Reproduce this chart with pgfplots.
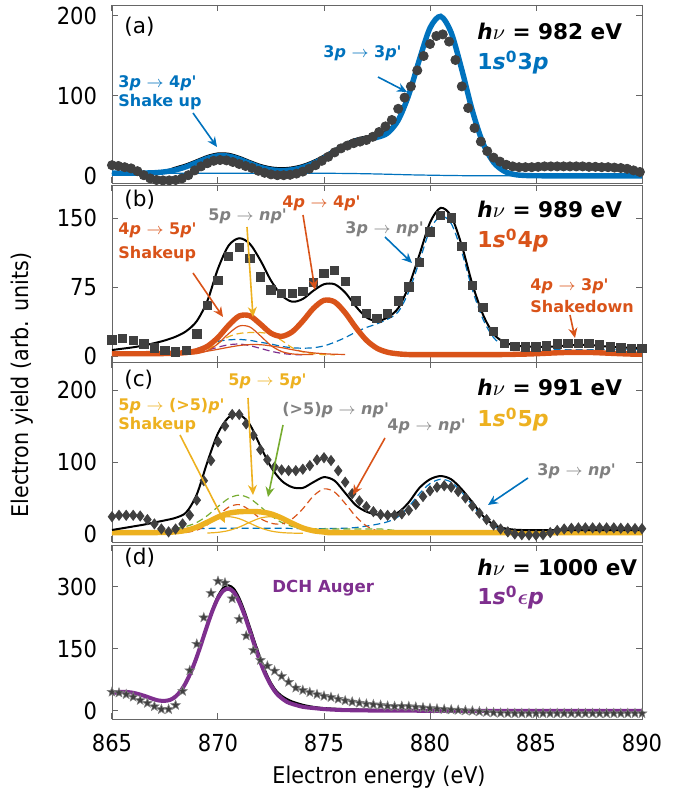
\documentclass[border=0pt]{standalone}
\usepackage{pgfplots}
\pgfplotsset{compat=1.18}
\usepackage{fontspec}
\setmainfont{DejaVu Sans}
\newfontfamily\condfont{DejaVu Sans Condensed}
\usetikzlibrary{arrows.meta}
\definecolor{mblue}{RGB}{0,114,189}
\definecolor{morange}{RGB}{217,83,25}
\definecolor{myellow}{RGB}{237,177,32}
\definecolor{mpurple}{RGB}{126,47,142}
\definecolor{mgreen}{RGB}{119,172,48}
\definecolor{dgray}{RGB}{64,64,64}
\definecolor{gtext}{RGB}{128,128,128}
\pgfdeclareplotmark{fstar}{%
\pgfpathmoveto{\pgfpointpolar{90}{\pgfplotmarksize}}%
\pgfpathlineto{\pgfpointpolar{126}{0.42\pgfplotmarksize}}%
\pgfpathlineto{\pgfpointpolar{162}{\pgfplotmarksize}}%
\pgfpathlineto{\pgfpointpolar{198}{0.42\pgfplotmarksize}}%
\pgfpathlineto{\pgfpointpolar{234}{\pgfplotmarksize}}%
\pgfpathlineto{\pgfpointpolar{270}{0.42\pgfplotmarksize}}%
\pgfpathlineto{\pgfpointpolar{306}{\pgfplotmarksize}}%
\pgfpathlineto{\pgfpointpolar{342}{0.42\pgfplotmarksize}}%
\pgfpathlineto{\pgfpointpolar{18}{\pgfplotmarksize}}%
\pgfpathlineto{\pgfpointpolar{54}{0.42\pgfplotmarksize}}%
\pgfpathclose\pgfusepathqfillstroke}
\pgfplotsset{
 panel/.style={scale only axis, width=265pt, xmin=865, xmax=890,
  xtick={865,870,875,880,885,890}, tick align=inside, major tick length=3pt,
  axis line style={draw=black!60}, tick style={draw=black!60, line width=0.5pt},
  /pgf/number format/assume math mode=true,
  tick label style={font=\condfont\fontsize{11.7}{13}\selectfont},
  yticklabel style={xshift=-4pt}, xticklabel style={yshift=-4pt},
  anchor=north west},
 thick fit/.style={line width=2.7pt, smooth},
 blk/.style={black, line width=1pt, smooth},
 thin/.style={line width=0.6pt, smooth},
 dsh/.style={line width=0.6pt, smooth, dash pattern=on 3.5pt off 2pt},
}
\newcommand\ip{\textit{p}}
\newcommand\tq{\textquotesingle}
\begin{document}
\begin{tikzpicture}
\path[use as bounding box] (0,0) rectangle (344pt,397pt);
% ---------------- (a)
\begin{axis}[panel, at={(56pt,394.5pt)}, height=89pt, ymin=-8.75, ymax=213.75, ytick={0,100,200}, xticklabels={}]
\addplot[only marks, mark=*, mark size=2.3pt, color=dgray] coordinates {(865.0,13.5)(865.3,12.5)(865.6,11)(865.9,9.5)(866.2,6)(866.5,1)(866.8,-3)(867.1,-5)(867.4,-5.5)(867.7,-5.5)(868.0,-5)(868.3,-3)(868.6,1)(868.9,7)(869.2,12)(869.5,16)(869.8,19)(870.1,20)(870.4,19.5)(870.7,17.5)(871.0,15)(871.3,12.5)(871.6,10)(871.9,6.5)(872.2,4)(872.5,2)(872.8,1)(873.1,1)(873.4,1.5)(873.7,3)(874.0,5.5)(874.3,9)(874.6,13.5)(874.9,19)(875.2,24)(875.5,29.5)(875.8,34.5)(876.1,38)(876.4,41)(876.7,43)(877.0,45)(877.3,49)(877.6,55)(877.9,62)(878.2,70)(878.5,84)(878.8,98)(879.1,112)(879.4,132)(879.7,150)(880.0,165)(880.3,175)(880.6,177)(880.9,168)(881.2,145)(881.5,112)(881.8,85)(882.1,60)(882.4,43)(882.7,31)(883.0,23)(883.3,18)(883.6,14)(883.9,12)(884.2,11)(884.5,11)(884.8,11)(885.1,11.5)(885.4,12)(885.7,12)(886.0,12)(886.3,12)(886.6,12)(886.9,12)(887.2,12)(887.5,11.5)(887.8,11.5)(888.1,11)(888.4,11)(888.7,10.5)(889.0,10)(889.3,9)(889.6,7)(889.9,5)};
\addplot[blk] coordinates {(865,3.5)(865.5,3.5)(866,3.6)(866.5,3.8)(867,4.3)(867.5,6.3)(868,10.6)(868.5,14.6)(869,19.8)(869.5,25.1)(870,28.2)(870.5,27.8)(871,24.1)(871.5,18.8)(872,13.9)(872.5,10.8)(873,9.7)(873.5,10.8)(874,13.8)(874.5,18.9)(875,25.7)(875.5,33.5)(876,40.9)(876.5,46.4)(877,49.4)(877.5,51.3)(878,56.7)(878.5,71.7)(879,101.5)(879.5,145.5)(880,185)(880.5,199.6)(881,179.2)(881.5,133)(882,81.4)(882.5,41)(883,17.1)(883.5,6)(884,1.8)(884.5,0.6)(885,0.3)(886,0.2)(890,0.2)};
\addplot[thin, mblue] coordinates {(865,3.5)(874,3.5)(875,3.4)(876,3.2)(877,2.8)(878,2.2)(879,1.5)(880,1)(881,0.6)(882,0.3)(883,0.2)(890,0.2)};
\addplot[thick fit, mblue] coordinates {(865,3.5)(865.5,3.5)(866,3.55)(866.5,3.7)(867,4.1)(867.5,5.25)(868,7.6)(868.5,11.6)(869,16.8)(869.5,22.1)(870,25.2)(870.5,24.8)(871,21.1)(871.5,15.8)(872,10.9)(872.5,7.8)(873,6.7)(873.5,7.8)(874,10.8)(874.5,15.9)(875,22.7)(875.5,30.5)(876,37.9)(876.5,43.4)(877,46.4)(877.5,48.3)(878,53.7)(878.5,69.7)(879,101.5)(879.5,145.5)(880,185)(880.5,199.6)(881,179.2)(881.5,133)(882,81.4)(882.5,41)(883,17.1)(883.5,6)(884,1.8)(884.5,0.6)(885,0.3)(886,0.2)(890,0.2)};
\end{axis}
% ---------------- (b)
\begin{axis}[panel, at={(56pt,304.5pt)}, height=88.5pt, ymin=-6.5, ymax=185.9, ytick={0,75,150}, xticklabels={}]
\addplot[only marks, mark=square*, mark size=2.1pt, color=dgray] coordinates {(865,17.5)(865.5,19)(866,17)(866.5,13)(867,9)(867.5,6)(868,4.5)(868.5,6)(869,24)(869.5,55)(870,82)(870.5,108)(871,118)(871.5,106)(872,86)(872.5,72)(873,68)(873.5,68)(874,70)(874.5,80)(875,90)(875.5,93)(876,81)(876.5,60)(877,46)(877.5,41)(878,46)(878.5,60)(879,75)(879.5,102)(880,135)(880.5,153)(881,150)(881.5,119)(882,77)(882.5,53)(883,27)(883.5,14)(884,10.5)(884.5,10)(885,10)(885.5,11)(886,13)(886.5,14)(887,14)(887.5,14)(888,12)(888.5,10)(889,9)(889.5,8.5)(890,8.5)};
\addplot[dsh, mpurple] coordinates {(867,1)(867.5,1.1)(868,1.4)(868.5,2.1)(869,3.7)(869.5,6.3)(870,9.6)(870.5,12.2)(871,13)(871.5,11.3)(872,8.3)(872.5,5.2)(873,2.9)(873.5,1.7)(874,1.2)};
\addplot[dsh, myellow] coordinates {(868.5,2)(869,3.5)(869.5,7)(870,14)(870.5,21)(871,24.5)(871.5,25.5)(872,25.5)(872.5,23.5)(873,17)(873.5,9)(874,4.5)(874.5,2.5)(875,1.5)(875.5,1.2)};
\addplot[dsh, mblue] coordinates {(868.5,5)(869,8)(869.5,12)(870,16)(870.5,17.5)(871,18)(871.5,17)(872,15)(872.5,13)(873,10.5)(873.5,9)(874,8.5)(874.5,9)(875,11)(875.5,15)(876,20)(876.5,26)(877,31)(877.5,35)(878,40)(878.5,48)(879,70)(879.5,103)(880,137)(880.5,152)(881,144)(881.5,113)(882,72)(882.5,40)(883,20)(883.5,11)(884,8.5)(884.5,7.5)(885,7)(890,7)};
\addplot[thin, morange] coordinates {(868.5,1.7)(869,2.6)(869.5,5.8)(870,13.3)(870.5,24.3)(871,32.6)(871.5,31.6)(872,22)(872.5,11.4)(873,4.9)(873.5,2.3)(874,1.65)(874.5,1.5)};
\addplot[thin, morange] coordinates {(867,1.6)(867.5,1.7)(868,2.0)(868.5,2.6)(869,3.7)(869.5,5.25)(870,7.3)(870.5,9.5)(871,11.4)(871.5,12.4)(872,12.3)(872.5,11)(873,9.1)(873.5,6.9)(874,4.9)(874.5,3.4)(875,2.5)(875.5,1.9)(876,1.7)};
\addplot[thick fit, morange] coordinates {(865,2.5)(866,2.5)(866.5,2.5)(867,2.6)(867.5,2.7)(868,3.0)(868.5,3.8)(869,5.8)(869.5,10.6)(870,20.1)(870.5,33.3)(871,43.5)(871.5,43.7)(872,34.7)(872.5,24.8)(873,21.4)(873.5,26.3)(874,38)(874.5,51.8)(875,60.5)(875.5,58.8)(876,47)(876.5,31)(877,17.2)(877.5,8.4)(878,4.1)(878.5,2.35)(879,1.6)(879.5,1.5)(883.5,1.6)(884,1.85)(884.5,2.1)(885,2.5)(885.5,3.0)(886,3.5)(886.5,3.9)(887,4.0)(887.5,3.9)(888,3.5)(888.5,3.0)(889,2.5)(889.5,2.1)(890,1.85)};
\addplot[blk] coordinates {(865,6.5)(865.5,8)(866,9.5)(866.5,11.5)(867,14)(867.5,17)(868,21)(868.5,27)(869,38)(869.5,60)(870,95)(870.5,120)(871,128)(871.5,122)(872,104)(872.5,82)(873,66)(873.5,59)(874,62)(874.5,71)(875,78)(875.5,78)(876,69)(876.5,54)(877,42)(877.5,38)(878,42)(878.5,52)(879,76)(879.5,110)(880,145)(880.5,161)(881,152)(881.5,120)(882,78)(882.5,45)(883,24)(883.5,15)(884,11.5)(884.5,10.5)(885,10)(885.5,10)(886,10.5)(886.5,11.5)(887,12)(887.5,12)(888,11)(888.5,10)(889,9.5)(889.5,9)(890,8.5)};
\end{axis}
% ---------------- (c)
\begin{axis}[panel, at={(56pt,216pt)}, height=90pt, ymin=-11.1, ymax=238.9, ytick={0,100,200}, xticklabels={}]
\addplot[only marks, mark=diamond*, mark size=2.5pt, color=dgray] coordinates {(865.00,24)(865.33,26)(865.67,26)(866.00,26)(866.33,25)(866.67,20)(867.00,14)(867.33,7)(867.67,3)(868.00,7)(868.33,14)(868.67,26)(869.00,47)(869.33,74)(869.67,102)(870.00,128)(870.33,150)(870.67,166)(871.00,166)(871.33,153)(871.67,137)(872.00,117)(872.33,103)(872.67,93)(873.00,89)(873.33,88)(873.67,88)(874.00,90)(874.33,95)(874.67,103)(875.00,106)(875.33,102)(875.67,88)(876.00,72)(876.33,56)(876.67,46)(877.00,38)(877.33,31)(877.67,27)(878.00,26)(878.33,26)(878.67,28)(879.00,33)(879.33,41)(879.67,52)(880.00,60)(880.33,65)(880.67,67)(881.00,65)(881.33,59)(881.67,50)(882.00,39)(882.33,29)(882.67,20)(883.00,12.5)(883.33,7)(883.67,3)(884.00,0)(884.33,-1)(884.67,-1.5)(885.00,-1.5)(885.33,-1)(885.67,2)(886.00,5)(886.33,7)(886.67,8)(887.00,8.5)(887.33,8.5)(887.67,8.5)(888.00,8.5)(888.33,8.5)(888.67,8.5)(889.00,8)(889.33,8)(889.67,7.5)(890.00,7.5)};
\addplot[dsh, mblue] coordinates {(868,7)(869,7.5)(870,8)(871,8)(872,8)(873,8)(874,7.5)(875,7.5)(876,8)(876.5,9)(877,11)(877.5,13.5)(878,17)(878.5,24)(879,38)(879.5,56)(880,70)(880.5,76)(881,72)(881.5,58)(882,40)(882.5,22)(883,11)(883.5,6)(884,4.5)(885,4)(890,4)};
\addplot[dsh, mgreen] coordinates {(868,8.1)(868.5,10.6)(869,16)(869.5,25.6)(870,38)(870.5,49.4)(871,54)(871.5,49.4)(872,38)(872.5,25.6)(873,16)(873.5,10.6)(874,8.1)(874.5,7.3)(875,7)(877.5,7)(878,6)(878.5,4.5)(879,3.5)(880,3)};
\addplot[dsh, morange] coordinates {(868.5,2.1)(869,5.3)(869.5,12.9)(870,25.3)(870.5,37.2)(871,40.8)(871.5,33.1)(872,21.5)(872.5,15)(873,14)(873.5,21)(874,35)(874.5,52.8)(875,62.7)(875.5,58.2)(876,42.4)(876.5,24.3)(877,11.2)(877.5,4.5)(878,1.9)(878.5,1.2)};
\addplot[thin, myellow] coordinates {(867,1.0)(867.5,1.25)(868,2.0)(868.5,4.1)(869,8.5)(869.5,15)(870,21.3)(870.5,24)(871,21.3)(871.5,15)(872,8.5)(872.5,4.1)(873,2.0)(873.5,1.25)(874,1.0)};
\addplot[thin, myellow] coordinates {(869.5,1.35)(870,2.3)(870.5,4.8)(871,9.6)(871.5,16.3)(872,22.2)(872.5,23.9)(873,20.2)(873.5,13.6)(874,7.4)(874.5,3.5)(875,1.8)(875.5,1.2)(876,1.0)};
\addplot[thick fit, myellow] coordinates {(865,2)(867,2)(867.5,2.25)(868,3)(868.5,5.1)(869,9.5)(869.5,16.4)(870,23.6)(870.5,28.8)(871,30.9)(871.5,31.3)(872,30.7)(872.5,28)(873,22.2)(873.5,14.9)(874,8.4)(874.5,4.5)(875,2.8)(875.5,2.2)(876,2)(890,2)};
\addplot[blk] coordinates {(865,5.6)(865.5,8)(866,10.5)(866.5,13)(867,16)(867.5,19)(868,22.5)(868.5,30)(869,55)(869.5,100)(870,140)(870.5,162)(871,166)(871.5,152)(872,122)(872.5,93)(873,74)(873.5,65)(874,64)(874.5,72)(875,79)(875.5,74)(876,57)(876.5,40)(877,31)(877.5,27)(878,26.5)(878.5,30)(879,44)(879.5,64)(880,76)(880.5,80.5)(881,76)(881.5,62)(882,44)(882.5,25)(883,13)(883.5,8)(884,6)(884.5,5.5)(886,5.5)(890,5.5)};
\end{axis}
% ---------------- (d)
\begin{axis}[panel, at={(56pt,124.5pt)}, height=87pt, ymin=-19.4, ymax=401.6, ytick={0,150,300}]
\addplot[only marks, mark=fstar, mark size=2.5pt, draw=black!50, fill=black!75, line width=0.3pt] coordinates {(865.00,46)(865.33,44)(865.67,40)(866.00,34)(866.33,26)(866.67,19)(867.00,11)(867.33,4)(867.67,4)(868.00,14)(868.33,48)(868.67,98)(869.00,162)(869.33,226)(869.67,285)(870.00,314)(870.33,310)(870.67,272)(871.00,222)(871.33,182)(871.67,147)(872.00,123)(872.33,109)(872.67,97)(873.00,84)(873.33,70)(873.67,56)(874.00,50)(874.33,45)(874.67,40)(875.00,36)(875.33,33)(875.67,29)(876.00,25)(876.33,22)(876.67,19.5)(877.00,17)(877.33,15.5)(877.67,14)(878.00,12)(878.33,11)(878.67,11.5)(879.00,11)(879.33,9.5)(879.67,8)(880.00,6.5)(880.33,5)(880.67,4)(881.00,3)(881.33,2)(881.67,1)(882.00,0)(882.33,-1.5)(882.67,-3)(883.00,-4)(883.33,-5)(883.67,-5.5)(884.00,-6)(884.33,-6)(884.67,-6)(885.00,-6)(885.33,-6)(885.67,-6)(886.00,-6)(886.33,-6)(886.67,-6)(887.00,-6)(887.33,-6)(887.67,-6)(888.00,-6)(888.33,-6)(888.67,-6)(889.00,-6)(889.33,-6)(889.67,-6)(890.00,-6)};
\addplot[blk] coordinates {(865,42.7)(865.5,46.5)(866,44)(866.5,37)(867,28)(867.25,25)(867.5,24.5)(867.75,27)(868,35)(868.25,49)(868.5,70)(868.75,98)(869,132)(869.25,171)(869.5,211)(869.75,248)(870,279)(870.25,298)(870.5,304)(870.75,296)(871,274)(871.25,242)(871.5,204)(871.75,165)(872,128)(872.25,95)(872.5,68)(872.75,49)(873,37)(873.25,29)(873.5,23)(874,15)(874.5,10)(875,7)(876,4.5)(877,3.2)(878,2.5)(880,1.5)(885,0.6)(890,0.4)};
\addplot[line width=2pt, smooth, mpurple] coordinates {(865,42.7)(865.5,46.5)(866,44)(866.5,37)(867,28)(867.25,25)(867.5,24.5)(867.75,27)(868,35)(868.25,49)(868.5,70)(868.75,97.5)(869,131)(869.25,169)(869.5,208)(869.75,244)(870,273)(870.25,291)(870.5,296)(870.75,287)(871,264)(871.25,232)(871.5,194)(871.75,155)(872,118)(872.25,87)(872.5,62)(872.75,43)(873,31)(873.25,22)(873.5,17)(874,10)(874.5,7)(875,4.5)(875.5,3)(876,2)(877,1.2)(878,0.8)(880,0.5)(885,0.3)(890,0.3)};
\end{axis}
% ---------------- annotations
\begin{scope}[shift={(0pt,397pt)}, x=0.5pt, y=-0.5pt,
  every node/.style={inner sep=0pt, anchor=base west},
  sm/.style={font=\fontsize{8}{9}\selectfont\bfseries},
  big/.style={font=\fontsize{10.8}{12}\selectfont\bfseries},
  st/.style={font=\fontsize{11}{12}\selectfont\bfseries},
  lt/.style={font=\fontsize{10.8}{12}\selectfont},
  arr/.style={line width=0.8pt, -{Stealth[length=5pt,width=4.5pt]}}]
% axis labels
\node[anchor=center, rotate=90, font=\condfont\fontsize{11.5}{13}\selectfont] at (22,385) {Electron yield (arb. units)};
\node[anchor=center, font=\condfont\fontsize{11.5}{13}\selectfont] at (379,777) {Electron energy (eV)};
% (a)
\node[lt] at (124,34) {(a)};
\node[big] at (477,40) {\textit{h}$\nu$ = 982 eV};
\node[st, text=mblue] at (477,70) {1\textit{s}\textsuperscript{0}3\ip};
\node[sm, text=mblue] at (323,58) {3\ip{} $\rightarrow$ 3\ip\tq};
\node[sm, text=mblue] at (118,88) {3\ip{} $\rightarrow$ 4\ip\tq};
\node[sm, text=mblue] at (118,107) {Shake up};
\draw[arr, mblue] (193,113) -- (217,147);
\draw[arr, mblue] (378,77) -- (407,92);
% (b)
\node[lt] at (124,207) {(b)};
\node[big] at (477,218) {\textit{h}$\nu$ = 989 eV};
\node[st, text=morange] at (477,248) {1\textit{s}\textsuperscript{0}4\ip};
\node[sm, text=morange] at (118,235) {4\ip{} $\rightarrow$ 5\ip\tq};
\node[sm, text=morange] at (118,259) {Shakeup};
\node[sm, text=gtext] at (208,221) {5\ip{} $\rightarrow$ \textit{np}\tq};
\node[sm, text=morange] at (282,208) {4\ip{} $\rightarrow$ 4\ip\tq};
\node[sm, text=gtext] at (345,234) {3\ip{} $\rightarrow$ \textit{np}\tq};
\node[sm, text=morange] at (530,291) {4\ip{} $\rightarrow$ 3\ip\tq};
\node[sm, text=morange] at (530,313) {Shakedown};
\draw[arr, morange] (193,273) -- (223,317);
\draw[arr, myellow] (247,227) -- (253,317);
\draw[arr, morange] (303,215) -- (315,290);
\draw[arr, mblue] (385,237) -- (412,263);
\draw[arr, morange] (570,315) -- (575,338);
% (c)
\node[lt] at (124,387) {(c)};
\node[big] at (477,396) {\textit{h}$\nu$ = 991 eV};
\node[st, text=myellow] at (477,427) {1\textit{s}\textsuperscript{0}5\ip};
\node[sm, text=myellow] at (228,386) {5\ip{} $\rightarrow$ 5\ip\tq};
\node[sm, text=myellow] at (118,411) {5\ip{} $\rightarrow$ (>5)\ip\tq};
\node[sm, text=myellow] at (118,430) {Shakeup};
\node[sm, text=gtext] at (282,415) {(>5)\ip{} $\rightarrow$ \textit{np}\tq};
\node[sm, text=gtext] at (387,431) {4\ip{} $\rightarrow$ \textit{np}\tq};
\node[sm, text=gtext] at (537,476) {3\ip{} $\rightarrow$ \textit{np}\tq};
\draw[arr, myellow] (180,435) -- (225,523);
\draw[arr, myellow] (248,398) -- (253,495);
\draw[arr, mgreen] (283,425) -- (268,497);
\draw[arr, morange] (385,438) -- (353,495);
\draw[arr, mblue] (528,478) -- (488,505);
% (d)
\node[lt] at (124,565) {(d)};
\node[sm, text=mpurple, font=\fontsize{8.3}{9}\selectfont\bfseries] at (272,593) {DCH Auger};
\node[big] at (477,576) {\textit{h}$\nu$ = 1000 eV};
\node[st, text=mpurple] at (477,605) {1\textit{s}\textsuperscript{0}{\boldmath$\epsilon$}\ip};
\end{scope}
\end{tikzpicture}
\end{document}
